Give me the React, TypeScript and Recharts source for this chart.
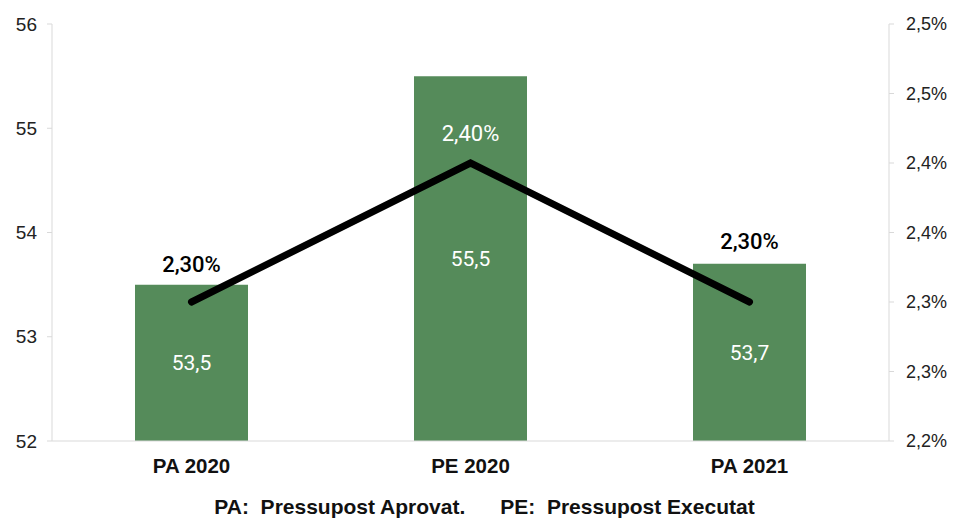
import React from "react";
import {
  ComposedChart,
  Bar,
  Line,
  XAxis,
  YAxis,
  LabelList,
} from "recharts";

const categories = ["PA 2020", "PE 2020", "PA 2021"];
const budget = [53.5, 55.5, 53.7];
const share = [2.3, 2.4, 2.3];
const leftTicks = [52, 53, 54, 55, 56];
const rightTicks = [2.2, 2.25, 2.3, 2.35, 2.4, 2.45, 2.5];
const boundaryTicks = [0, 1, 2, 3];

const data = categories.map((name, i) => ({
  name,
  idx: i + 0.5,
  budget: budget[i],
  share: share[i],
}));

const comma = (s: string) => s.replace(".", ",");

// extra lift for the percentage labels so they clear the bars
const shareLift = [38, 30, 61];

const ShareLabel = (props: any) => {
  const { x, y, index, value } = props;
  return (
    <text
      x={x}
      y={y - shareLift[index]}
      textAnchor="middle"
      dominantBaseline="central"
      fill={index === 1 ? "#ffffff" : "#000000"}
      fontFamily="Roboto"
      fontWeight={index === 1 ? 400 : 500}
      fontSize={22}
    >
      {comma(value.toFixed(2)) + "%"}
    </text>
  );
};

export default function App() {
  return (
    <div style={{ position: "relative", width: 953, height: 513 }}>
      <ComposedChart
        width={953}
        height={513}
        data={data}
        margin={{ top: 16, right: 0, left: 0, bottom: 40 }}
      >
        <XAxis
          xAxisId="edges"
          type="number"
          dataKey="idx"
          domain={[0, 3]}
          ticks={boundaryTicks}
          tickFormatter={() => ""}
          axisLine={false}
          tickLine={{ stroke: "#d9d9d9" }}
          tickSize={5}
          height={0}
        />
        <XAxis
          dataKey="name"
          axisLine={{ stroke: "#d9d9d9" }}
          tickLine={false}
          height={40}
          tick={{ fontFamily: "Liberation Sans", fontWeight: 700, fontSize: 20.5, fill: "#111" }}
          dy={9}
        />
        <YAxis
          yAxisId="left"
          domain={[52, 56]}
          ticks={leftTicks}
          width={44}
          axisLine={{ stroke: "#d9d9d9" }}
          tickLine={{ stroke: "#d9d9d9" }}
          tickSize={5}
          tickMargin={10}
          tick={{ fontFamily: "Liberation Sans", fontSize: 19, fill: "#222" }}
        />
        <YAxis
          yAxisId="right"
          orientation="right"
          domain={[2.2, 2.5]}
          ticks={rightTicks}
          width={72}
          axisLine={{ stroke: "#d9d9d9" }}
          tickLine={{ stroke: "#d9d9d9" }}
          tickSize={5}
          tickMargin={12}
          tick={{ fontFamily: "Liberation Sans", fontSize: 18, fill: "#222" }}
          tickFormatter={(v: number) => comma(v.toFixed(1)) + "%"}
        />
        <Bar
          yAxisId="left"
          dataKey="budget"
          fill="#558b5a"
          barSize={113}
          isAnimationActive={false}
        >
          <LabelList
            dataKey="budget"
            position="center"
            fill="#ffffff"
            fontFamily="Roboto"
            fontSize={21}
            formatter={(v: any) => comma(Number(v).toFixed(1))}
          />
        </Bar>
        <Line
          yAxisId="right"
          dataKey="share"
          stroke="#000000"
          strokeWidth={7}
          strokeLinecap="round"
          strokeLinejoin="miter"
          dot={false}
          activeDot={false}
          isAnimationActive={false}
        >
          <LabelList dataKey="share" content={<ShareLabel />} />
        </Line>
      </ComposedChart>
      <div
        style={{
          position: "absolute",
          top: 487,
          left: 0,
          width: 953,
          textAlign: "center",
          fontFamily: "Liberation Sans",
          fontWeight: 700,
          fontSize: 21,
          color: "#111",
          whiteSpace: "pre",
        }}
      >
        {"PA:  Pressupost Aprovat.      PE:  Pressupost Executat"}
      </div>
    </div>
  );
}
